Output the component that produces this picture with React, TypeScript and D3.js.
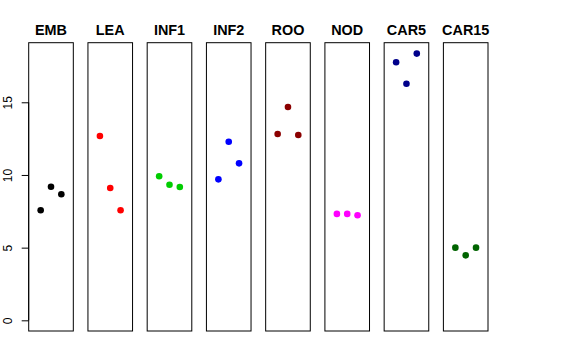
import * as d3 from 'd3'
import { useEffect, useRef } from 'react'

// tissue groups, three replicates each
const tissues = ['EMB', 'LEA', 'INF1', 'INF2', 'ROO', 'NOD', 'CAR5', 'CAR15']
const colors = ['#000000', '#FF0000', '#00CD00', '#0000FF', '#8B0000', '#FF00FF', '#00008B', '#006400']
const rep1 = [7.57, 12.68, 9.91, 9.70, 12.82, 7.32, 17.76, 5.0]
const rep2 = [9.19, 9.10, 9.33, 12.29, 14.68, 7.32, 16.28, 4.47]
const rep3 = [8.67, 7.57, 9.17, 10.80, 12.75, 7.23, 18.35, 5.0]
const yTicks = [0, 5, 10, 15]

export default function App() {
  const ref = useRef<SVGSVGElement>(null)

  useEffect(() => {
    const svg = d3.select(ref.current)
    svg.selectAll('*').remove()
    const width = 576
    const height = 360
    const top = 42.7
    const bottom = 331

    const panel = d3.scaleBand<string>()
      .domain(tissues)
      .range([28.7, 488])
      .paddingInner(0.247)
      .paddingOuter(0)

    const y = d3.scaleLinear().domain([-0.735, 19.1]).range([bottom, top])
    const x = d3.scaleLinear().domain([-0.16, 4.16]).range([0, panel.bandwidth()])

    svg.attr('width', width).attr('height', height)
    svg.append('rect').attr('width', width).attr('height', height).attr('fill', '#fff')

    const groups = svg.selectAll('.panel')
      .data(tissues.map((t, i) => ({ t, i, vals: [rep1[i], rep2[i], rep3[i]] })))
      .join('g')
      .attr('class', 'panel')
      .attr('transform', d => `translate(${panel(d.t)},0)`)

    groups.append('rect')
      .attr('x', 0)
      .attr('y', top)
      .attr('width', panel.bandwidth())
      .attr('height', bottom - top)
      .attr('fill', 'none')
      .attr('stroke', '#000')
      .attr('stroke-width', 1)

    groups.append('text')
      .attr('x', panel.bandwidth() / 2)
      .attr('y', 34.5)
      .attr('text-anchor', 'middle')
      .attr('font-family', 'Liberation Sans, Arial, sans-serif')
      .attr('font-weight', 'bold')
      .attr('font-size', 14.4)
      .text(d => d.t)

    groups.selectAll('circle')
      .data(d => d.vals.map((v, j) => ({ v, j, c: colors[d.i] })))
      .join('circle')
      .attr('cx', d => x(d.j + 1))
      .attr('cy', d => y(d.v))
      .attr('r', 3.3)
      .attr('fill', d => d.c)

    const axis = svg.append('g')
      .attr('transform', `translate(${panel(tissues[0])},0)`)
      .call(d3.axisLeft(y).tickValues(yTicks).tickSize(7).tickFormat(d3.format('d')))
    axis.select('.domain').remove()
    axis.append('line')
      .attr('y1', y(0)).attr('y2', y(15))
      .attr('stroke', '#000')
    axis.selectAll('.tick line').attr('stroke', '#000')
    axis.selectAll('.tick text')
      .attr('transform', 'rotate(-90)')
      .attr('x', 0)
      .attr('y', -16.7)
      .attr('dy', null)
      .attr('text-anchor', 'middle')
      .attr('fill', '#000')
      .attr('font-family', 'Liberation Sans, Arial, sans-serif')
      .attr('font-size', 12)
  }, [])

  return <svg ref={ref} style={{ position: 'absolute', left: 0, top: 0, display: 'block' }} />
}
